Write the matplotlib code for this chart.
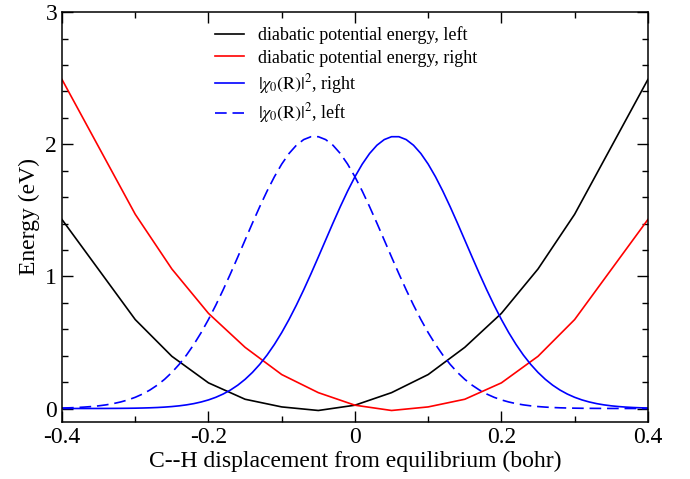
import matplotlib
matplotlib.use("Agg")
import matplotlib.pyplot as plt
from matplotlib.ticker import MultipleLocator

plt.rcParams['font.family'] = ['Liberation Serif', 'DejaVu Serif']
plt.rcParams['mathtext.fontset'] = 'stix'

# diabatic potentials (piecewise)
x_pot = [-0.4, -0.3, -0.25, -0.2, -0.15, -0.1, -0.05, 0.0, 0.05, 0.1, 0.15, 0.2, 0.25, 0.3, 0.4]
v_left = [1.43, 0.673, 0.395, 0.194, 0.07, 0.012, -0.015, 0.025, 0.12, 0.257, 0.463, 0.72, 1.056, 1.47, 2.49]
v_right = [2.49, 1.47, 1.056, 0.72, 0.463, 0.257, 0.12, 0.025, -0.015, 0.012, 0.07, 0.194, 0.395, 0.673, 1.43]

# ground state densities
x_wf = [-0.40, -0.39, -0.38, -0.37, -0.36, -0.35, -0.34, -0.33, -0.32, -0.31,
        -0.30, -0.29, -0.28, -0.27, -0.26, -0.25, -0.24, -0.23, -0.22, -0.21,
        -0.20, -0.19, -0.18, -0.17, -0.16, -0.15, -0.14, -0.13, -0.12, -0.11,
        -0.10, -0.09, -0.08, -0.07, -0.06, -0.05, -0.04, -0.03, -0.02, -0.01,
        0.00, 0.01, 0.02, 0.03, 0.04, 0.05, 0.06, 0.07, 0.08, 0.09,
        0.10, 0.11, 0.12, 0.13, 0.14, 0.15, 0.16, 0.17, 0.18, 0.19,
        0.20, 0.21, 0.22, 0.23, 0.24, 0.25, 0.26, 0.27, 0.28, 0.29,
        0.30, 0.31, 0.32, 0.33, 0.34, 0.35, 0.36, 0.37, 0.38, 0.39,
        0.40]
chi_right = [0.0000, 0.0001, 0.0001, 0.0001, 0.0002, 0.0003, 0.0005, 0.0008, 0.0012, 0.0017,
             0.0025, 0.0037, 0.0053, 0.0075, 0.0106, 0.0147, 0.0202, 0.0275, 0.0370, 0.0494,
             0.0650, 0.0848, 0.1095, 0.1398, 0.1766, 0.2208, 0.2731, 0.3342, 0.4046, 0.4848,
             0.5746, 0.6740, 0.7822, 0.8980, 1.0201, 1.1466, 1.2751, 1.4033, 1.5277, 1.6457,
             1.7541, 1.8499, 1.9302, 1.9926, 2.0355, 2.0573, 2.0573, 2.0355, 1.9926, 1.9302,
             1.8499, 1.7541, 1.6457, 1.5277, 1.4033, 1.2751, 1.1466, 1.0201, 0.8980, 0.7822,
             0.6740, 0.5746, 0.4848, 0.4046, 0.3342, 0.2731, 0.2208, 0.1766, 0.1398, 0.1095,
             0.0848, 0.0650, 0.0494, 0.0370, 0.0275, 0.0202, 0.0147, 0.0106, 0.0075, 0.0053,
             0.0037]
chi_left = [0.0037, 0.0053, 0.0075, 0.0106, 0.0147, 0.0202, 0.0275, 0.0370, 0.0494, 0.0650,
            0.0848, 0.1095, 0.1398, 0.1766, 0.2208, 0.2731, 0.3342, 0.4046, 0.4848, 0.5746,
            0.6740, 0.7822, 0.8980, 1.0201, 1.1466, 1.2751, 1.4033, 1.5277, 1.6457, 1.7541,
            1.8499, 1.9302, 1.9926, 2.0355, 2.0573, 2.0573, 2.0355, 1.9926, 1.9302, 1.8499,
            1.7541, 1.6457, 1.5277, 1.4033, 1.2751, 1.1466, 1.0201, 0.8980, 0.7822, 0.6740,
            0.5746, 0.4848, 0.4046, 0.3342, 0.2731, 0.2208, 0.1766, 0.1398, 0.1095, 0.0848,
            0.0650, 0.0494, 0.0370, 0.0275, 0.0202, 0.0147, 0.0106, 0.0075, 0.0053, 0.0037,
            0.0025, 0.0017, 0.0012, 0.0008, 0.0005, 0.0003, 0.0002, 0.0001, 0.0001, 0.0001,
            0.0000]

fig = plt.figure(figsize=(6.9, 4.79), dpi=100)
ax = fig.add_axes([0.0899, 0.1196, 0.849, 0.855])

lw = 1.2
ax.plot(x_pot, v_left, color='black', lw=lw, label='diabatic potential energy, left')
ax.plot(x_pot, v_right, color='red', lw=lw, label='diabatic potential energy, right')
ax.plot(x_wf, chi_right, color='blue', lw=lw, label=r'$|\chi_0(\mathrm{R})|^2$, right')
ax.plot(x_wf, chi_left, color='blue', lw=lw, ls=(0, (7, 3.5)), label=r'$|\chi_0(\mathrm{R})|^2$, left')

ax.set_xlim(-0.4, 0.4)
ax.set_ylim(-0.1, 3)
ax.xaxis.set_major_locator(MultipleLocator(0.2))
ax.xaxis.set_minor_locator(MultipleLocator(0.1))
ax.yaxis.set_major_locator(MultipleLocator(1))
ax.yaxis.set_minor_locator(MultipleLocator(0.2))
ax.xaxis.set_major_formatter(plt.FuncFormatter(lambda v, p: '0' if abs(v) < 1e-9 else f'{v:g}'))
ax.tick_params(which='both', direction='in', top=True, right=True, labelsize=17, width=1)
ax.tick_params(which='major', length=8)
ax.tick_params(which='minor', length=4.5)
for s in ax.spines.values():
    s.set_linewidth(1.1)

ax.set_xlabel('C--H displacement from equilibrium (bohr)', fontsize=17, labelpad=2)
ax.set_ylabel('Energy (eV)', fontsize=17)

ax.legend(loc='upper center', bbox_to_anchor=(0.485, 1.005), frameon=False, fontsize=13,
          handlelength=1.6, labelspacing=0.3)

fig.savefig('out.png', dpi=100)
